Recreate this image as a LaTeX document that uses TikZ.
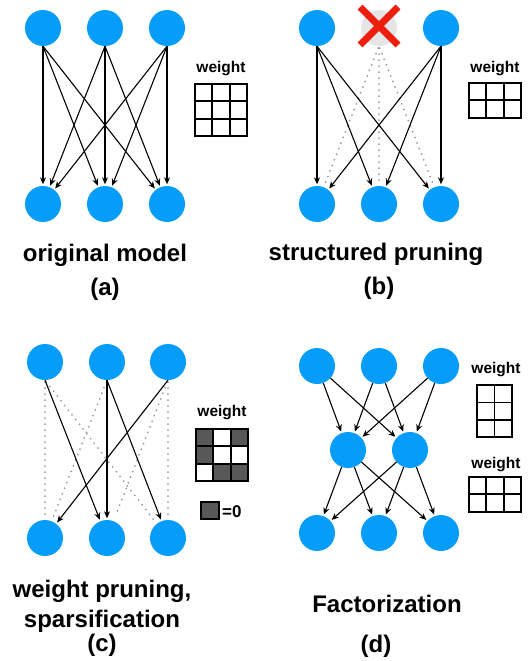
\documentclass[tikz,border=0pt]{standalone}
\usepackage{fontspec}
\setmainfont{Liberation Sans}
\usetikzlibrary{arrows.meta}

\definecolor{nnblue}{RGB}{6,156,250}
\definecolor{xred}{RGB}{236,30,14}
\definecolor{zerogray}{RGB}{88,88,88}

\tikzset{
  neuron/.style={circle, fill=nnblue, minimum size=36pt, inner sep=0pt},
  deadneuron/.style={circle, fill=black!10, minimum size=36pt, inner sep=0pt},
  conn/.style={-{Stealth[length=7pt,width=6pt]}, line width=1.1pt, shorten >=1.5pt},
  prunedconn/.style={black!40, line width=2pt, dash pattern=on 0pt off 6pt, line cap=round, shorten >=5pt, shorten <=2pt},
  gridline/.style={line width=1.8pt, line cap=rect},
  xmark/.style={xred, line width=7pt},
  wlabel/.style={font=\fontsize{15.5}{18}\selectfont\bfseries, anchor=base, inner sep=0pt},
  caption/.style={font=\fontsize{24}{28}\selectfont\bfseries, anchor=base, inner sep=0pt},
}

% weight matrix: x, y, cols, rows, cell size
\newcommand{\wgrid}[5]{%
  \foreach \c in {0,...,#3}
    \draw[gridline] (#1+\c*#5,#2) -- (#1+\c*#5,#2+#4*#5);
  \foreach \r in {0,...,#4}
    \draw[gridline] (#1,#2+\r*#5) -- (#1+#3*#5,#2+\r*#5);
}

\begin{document}
\begin{tikzpicture}[x=1pt, y=-1pt]
    \useasboundingbox (0,0) rectangle (528,661);

    % (a) original model
    \foreach \i/\x in {0/43,1/105,2/167} {
      \node[neuron] (a-t\i) at (\x,28) {};
      \node[neuron] (a-b\i) at (\x,204) {};
    }
    \foreach \i in {0,1,2}
      \foreach \j in {0,1,2}
        \draw[conn] (a-t\i.south) -- (a-b\j);
    \node[wlabel] (a-w) at (221,72) {weight};
    \wgrid{195}{84}{3}{3}{17.3}
    \node[caption] (a-cap) at (105,261) {original model};
    \node[caption] (a-lab) at (105,295) {(a)};

    % (b) structured pruning
    \node[neuron] (b-t0) at (317,28) {};
    \node[deadneuron] (b-t1) at (379,28) {};
    \node[neuron] (b-t2) at (441,28) {};
    \foreach \i/\x in {0/317,1/379,2/441}
      \node[neuron] (b-b\i) at (\x,204) {};
    \foreach \j in {0,1,2}
      \draw[prunedconn] (b-t1.south) -- (b-b\j);
    \foreach \i in {0,2}
      \foreach \j in {0,1,2}
        \draw[conn] (b-t\i.south) -- (b-b\j);
    \draw[xmark] ([shift={(-19,-21)}]b-t1.center) -- ([shift={(19,17)}]b-t1.center);
    \draw[xmark] ([shift={(-19,17)}]b-t1.center) -- ([shift={(19,-21)}]b-t1.center);
    \node[wlabel] (b-w) at (495,72) {weight};
    \wgrid{469}{83}{3}{2}{17.3}
    \node[caption] (b-cap) at (376,260) {structured pruning};
    \node[caption] (b-lab) at (379,294) {(b)};

    % (c) weight pruning
    \foreach \i/\x in {0/45,1/107,2/168} {
      \node[neuron] (c-t\i) at (\x,362) {};
      \node[neuron] (c-b\i) at (\x,538) {};
    }
    \foreach \i/\j in {0/0,0/2,1/0,2/1,2/2}
      \draw[prunedconn] (c-t\i.south) -- (c-b\j);
    \foreach \i/\j in {0/1,1/1,1/2,2/0}
      \draw[conn] (c-t\i.south) -- (c-b\j);
    \node[wlabel] (c-w) at (222,416) {weight};
    \foreach \c/\r in {0/0,2/0,0/1,1/2,2/2}
      \fill[zerogray] (196+\c*17.3,429+\r*17.3) rectangle ++(17.3,17.3);
    \wgrid{196}{429}{3}{3}{17.3}
    \draw[line width=1.8pt, fill=zerogray] (201,502) rectangle (219,519);
    \node[font=\fontsize{17}{20}\selectfont\bfseries, anchor=base west, inner sep=0pt] (c-zero) at (222,517) {=0};
    \node[caption] (c-cap) at (102,597) {weight pruning,};
    \node[caption] (c-cap2) at (102,627) {sparsification};
    \node[caption] (c-lab) at (102,651) {(c)};

    % (d) factorization
    \foreach \i/\x in {0/317,1/379,2/441} {
      \node[neuron] (d-t\i) at (\x,366) {};
      \node[neuron] (d-b\i) at (\x,533) {};
    }
    \node[neuron] (d-m0) at (348,450) {};
    \node[neuron] (d-m1) at (410,450) {};
    \foreach \i in {0,1,2}
      \foreach \k in {0,1} {
        \draw[conn] (d-t\i) -- (d-m\k);
        \draw[conn] (d-m\k) -- (d-b\i);
      }
    \node[wlabel] (d-w1) at (496,373) {weight};
    \wgrid{477}{385}{2}{3}{17.4}
    \node[wlabel] (d-w2) at (496,468) {weight};
    \wgrid{469}{477}{3}{2}{17.3}
    \node[caption] (d-cap) at (387,612) {Factorization};
    \node[caption] (d-lab) at (376,652) {(d)};
\end{tikzpicture}
\end{document}
